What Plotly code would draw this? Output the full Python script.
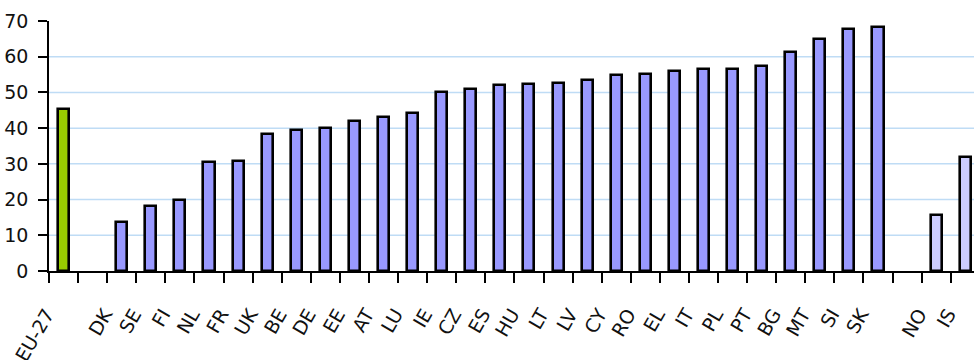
import plotly.graph_objects as go

# Share (%) by country: EU average, member states, and non-EU countries
eu_labels = ["EU-27"]
eu_values = [45.4]

member_labels = ["DK", "SE", "FI", "NL", "FR", "UK", "BE", "DE", "EE", "AT", "LU",
                 "IE", "CZ", "ES", "HU", "LT", "LV", "CY", "RO", "EL", "IT", "PL",
                 "PT", "BG", "MT", "SI", "SK"]
member_values = [13.7, 18.3, 19.9, 30.5, 30.8, 38.4, 39.4, 40.1, 42.1, 43.1, 44.2,
                 50.2, 50.9, 52.0, 52.3, 52.6, 53.5, 54.9, 55.2, 56.0, 56.5, 56.5,
                 57.4, 61.2, 64.9, 67.7, 68.4]

other_labels = ["NO", "IS"]
other_values = [15.7, 31.9]

y_ticks = [0, 10, 20, 30, 40, 50, 60, 70]
grid_values = [10, 20, 30, 40, 50, 60]

# slot positions: one empty slot between the three groups
eu_x = list(range(len(eu_labels)))
member_x = [len(eu_labels) + 1 + i for i in range(len(member_labels))]
other_x = [member_x[-1] + 2 + i for i in range(len(other_labels))]

FONT = "DejaVu Sans, Verdana, sans-serif"
bar_line = dict(color="#000000", width=2.6)
bar_width = 0.38

fig = go.Figure()
fig.add_trace(go.Bar(x=eu_x, y=eu_values, width=bar_width,
                     marker=dict(color="#99CC00", line=bar_line)))
fig.add_trace(go.Bar(x=member_x, y=member_values, width=bar_width,
                     marker=dict(color="#9999FF", line=bar_line)))
fig.add_trace(go.Bar(x=other_x, y=other_values, width=bar_width,
                     marker=dict(color="#CCCCFF", line=bar_line)))

for g in grid_values:
    fig.add_shape(type="line", xref="paper", x0=0, x1=1, yref="y", y0=g, y1=g,
                  line=dict(color="#BFDCF5", width=1.5), layer="below")

all_x = eu_x + member_x + other_x
all_labels = eu_labels + member_labels + other_labels
n_slots = other_x[-1] + 1

fig.update_layout(
    width=974, height=360,
    margin=dict(l=49, r=0, t=21, b=89),
    paper_bgcolor="white", plot_bgcolor="white",
    showlegend=False, bargap=0,
    font=dict(family=FONT, size=19, color="#111111"),
)
fig.update_xaxes(
    range=[-0.5, n_slots - 0.7],
    tickmode="array", tickvals=all_x, ticktext=all_labels,
    tickangle=-60, ticks="", ticklabelstandoff=23, ticklabelshift=-17,
    ticklabeloverflow="allow",
    showline=True, linecolor="#000000", linewidth=1.5,
    showgrid=False, zeroline=False, automargin=False,
    minor=dict(ticks="outside", ticklen=10, tickwidth=1.5, tickcolor="#000000",
               tickmode="linear", tick0=-0.5, dtick=1, showgrid=False),
    tickfont=dict(family=FONT, size=19, color="#111111"),
)
fig.update_yaxes(
    range=[0, 70], tickmode="array", tickvals=y_ticks,
    ticks="outside", ticklen=9, tickwidth=1.5, tickcolor="#000000",
    ticklabelstandoff=6, ticklabeloverflow="allow",
    showline=True, linecolor="#000000", linewidth=1.5,
    showgrid=False, zeroline=False, automargin=False,
    tickfont=dict(family=FONT, size=19, color="#111111"),
)

fig.write_html("out.html")
